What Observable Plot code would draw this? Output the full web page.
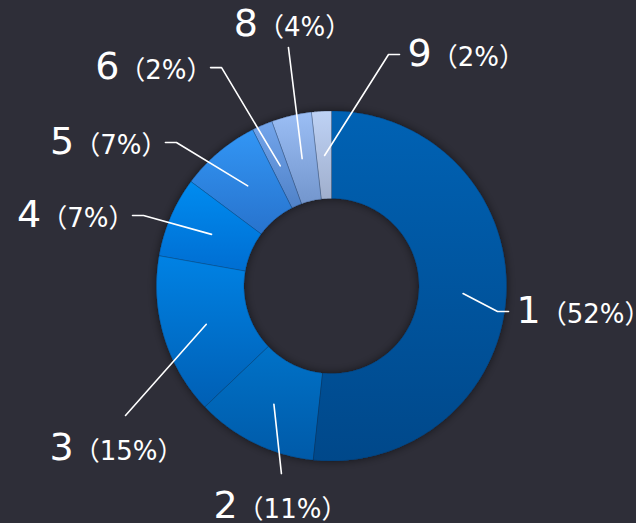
<!DOCTYPE html>
<html>
<head>
<meta charset="utf-8">
<script src="https://cdn.jsdelivr.net/npm/d3@7"></script>
<script src="https://cdn.jsdelivr.net/npm/@observablehq/plot@0.6"></script>
<style>
html, body { margin: 0; padding: 0; background: #2e2e38; }
#chart { width: 636px; height: 523px; }
</style>
</head>
<body>
<div id="chart"></div>
<script>
// ---- data ----
const names = ["1", "2", "3", "4", "5", "6", "8", "9"];
const values = [517, 112, 149, 74, 74, 19, 37, 18];

// ---- styles ----
const topColors    = ["#0062b4", "#0072c8", "#0082e4", "#008cf0", "#3296f5", "#73a5eb", "#9bbef5", "#bed2f5"];
const bottomColors = ["#00488a", "#005aa8", "#005fb4", "#006ed2", "#2873cd", "#5082c8", "#7396cd", "#a0afcd"];

// ---- layout (outer radius = 1 unit) ----
const W = 636, H = 523, CX = 331.5, CY = 286, R = 175;
const innerR = 0.5;
const labelElbow = [[0.946, -0.143], [-0.289, -1.069], [-1.180, -0.737], [-1.077, 0.406],
                    [-0.889, 0.823], [-0.631, 1.251], [-0.249, 1.366], [0.323, 1.326]];
const labelSide = ["right", "below", "below", "left", "left", "left", "above", "right"];
const labelShift = [0, -1, -9, 0, 0, 0, 4, 0];

const font = '"DejaVu Sans", "Noto Sans CJK SC", sans-serif';
const nameSize = 38, pctSize = 26;
const ctx = document.createElement("canvas").getContext("2d");
const measure = (t, size) => { ctx.font = `${size}px ${font}`; return ctx.measureText(t).width; };

const total = d3.sum(values);
const table = names.map((name, i) => ({name, value: values[i], i}));
const arcs = d3.pie().sort(null).value(d => d.value)(table);

// annular sectors: outer arc (x1,y1) and inner arc (x2,y2) sampled along the same angles
const slicePts = [];
for (const a of arcs) {
  const n = Math.max(4, Math.ceil((a.endAngle - a.startAngle) / 0.01));
  const i = a.data.i;
  for (let k = 0; k <= n; k++) {
    const t = a.startAngle + (a.endAngle - a.startAngle) * k / n;
    slicePts.push({name: a.data.name,
      solid: d3.interpolateRgb(topColors[i], bottomColors[i])(0.5),
      grad: `url(#grad${i})`,
      x1: Math.sin(t), y1: Math.cos(t), x2: innerR * Math.sin(t), y2: innerR * Math.cos(t)});
  }
}

const leaders = [], nameLabels = [], pctLabels = [];
arcs.forEach((a, i) => {
  const m = (a.startAngle + a.endAngle) / 2;
  const name = a.data.name;
  const [ex, ey] = labelElbow[i];
  const side = labelSide[i];
  leaders.push({name, x: 0.75 * Math.sin(m), y: 0.75 * Math.cos(m)});
  leaders.push({name, x: ex, y: ey});
  const pct = `（${Math.round(a.data.value / total * 100)}%）`;
  const wn = measure(name, nameSize) / R, wp = measure(pct, pctSize) / R;
  let x0, y0 = ey;
  if (side === "right") { leaders.push({name, x: ex + 11 / R, y: ey}); x0 = ex + 19 / R; }
  else if (side === "left") { leaders.push({name, x: ex - 11 / R, y: ey}); x0 = ex - 9 / R - wn - wp; }
  else if (side === "below") { x0 = ex + labelShift[i] / R - (wn + wp) / 2; y0 = ey - 33 / R; }
  else { x0 = ex + labelShift[i] / R - (wn + wp) / 2; y0 = ey + 22.5 / R; }
  nameLabels.push({x: x0, y: y0, text: name});
  pctLabels.push({x: x0 + wn, y: y0, text: pct});
});

const svg = Plot.plot({
  width: W, height: H,
  marginTop: 0, marginRight: 0, marginBottom: 0, marginLeft: 0,
  style: {background: "#2e2e38", overflow: "visible"},
  x: {domain: [-CX / R, (W - CX) / R], axis: null},
  y: {domain: [-(H - CY) / R, CY / R], axis: null},
  color: {type: "identity"},
  marks: [
    Plot.area(slicePts, {x1: "x1", y1: "y1", x2: "x2", y2: "y2", z: "name", fill: "solid"}),
    Plot.area(slicePts, {x1: "x1", y1: "y1", x2: "x2", y2: "y2", z: "name", fill: "grad",
      stroke: "#14223a", strokeOpacity: 0.45, strokeWidth: 0.6}),
    Plot.line(leaders, {x: "x", y: "y", z: "name", stroke: "white", strokeWidth: 1.6}),
    Plot.text(nameLabels, {x: "x", y: "y", text: "text", fill: "white", fontSize: nameSize,
      fontFamily: font, textAnchor: "start", lineAnchor: "middle", dy: -1}),
    Plot.text(pctLabels, {x: "x", y: "y", text: "text", fill: "white", fontSize: pctSize,
      fontFamily: font, textAnchor: "start", lineAnchor: "middle", dy: 3})
  ]
});

const s = d3.select(svg);
const defs = s.insert("defs", ":first-child");
names.forEach((n, i) => {
  const g = defs.append("linearGradient").attr("id", "grad" + i)
    .attr("x1", 0).attr("y1", 0).attr("x2", 0).attr("y2", 1);
  g.append("stop").attr("offset", "0%").attr("stop-color", topColors[i]);
  g.append("stop").attr("offset", "100%").attr("stop-color", bottomColors[i]);
});
const f = defs.append("filter").attr("id", "pieShadow")
  .attr("x", "-20%").attr("y", "-20%").attr("width", "140%").attr("height", "140%");
f.append("feDropShadow").attr("dx", 0).attr("dy", 0).attr("stdDeviation", 5)
  .attr("flood-color", "#000").attr("flood-opacity", 0.55);
const markGroups = svg.querySelectorAll(":scope > g");
if (markGroups[0]) markGroups[0].setAttribute("filter", "url(#pieShadow)");

document.getElementById("chart").appendChild(svg);
</script>
</body>
</html>
